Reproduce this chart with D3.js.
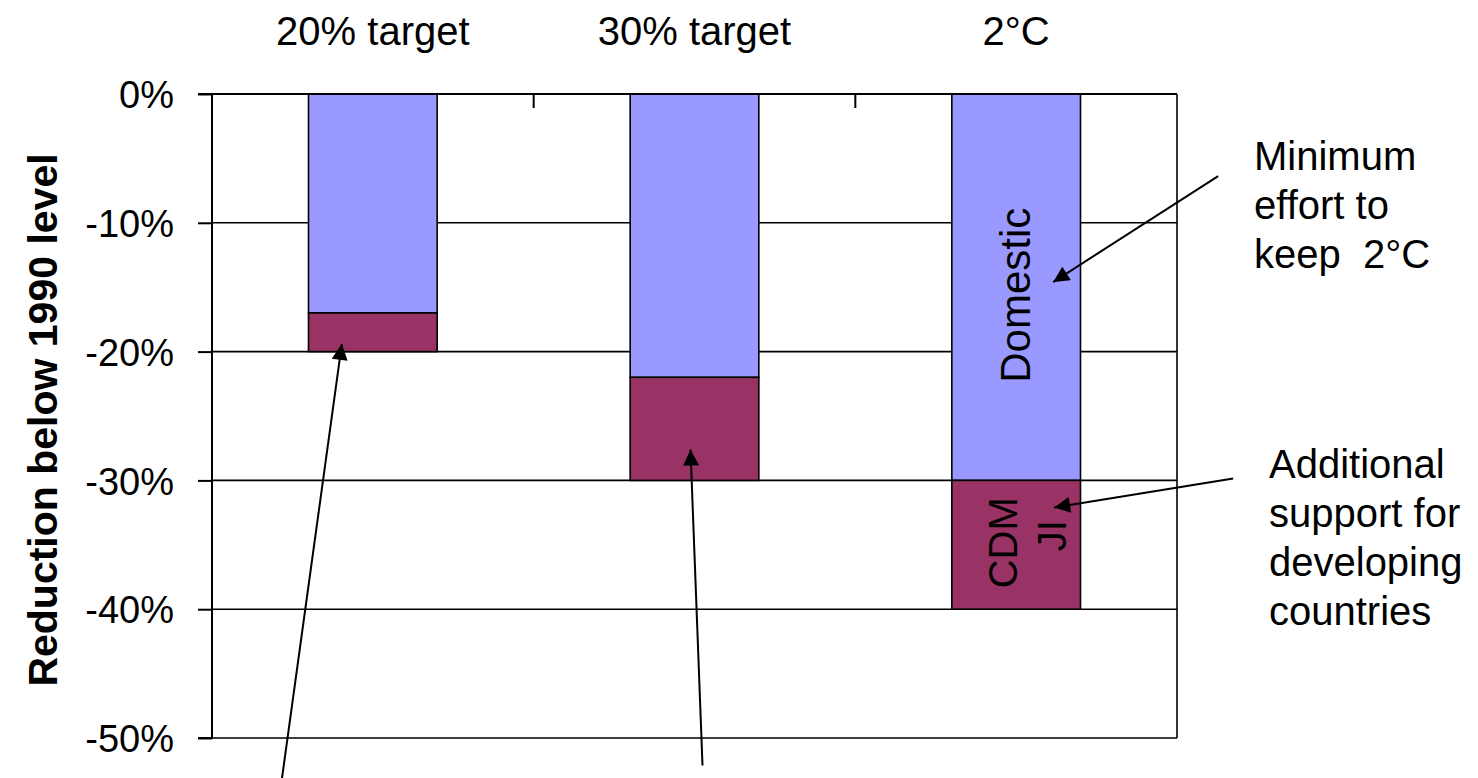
<!DOCTYPE html>
<html>
<head>
<meta charset="utf-8">
<script src="https://cdn.jsdelivr.net/npm/d3@7"></script>
<style>
  html, body { margin: 0; padding: 0; background: #fff; }
  svg { display: block; font-family: "Liberation Sans", Arial, sans-serif; }
</style>
</head>
<body>
<svg id="chart" width="1478" height="778"></svg>
<script>
// ---- data ----
const categories = ["20% target", "30% target", "2°C"];
const domestic = [-0.17, -0.22, -0.30];       // domestic reduction
const offsets = [-0.03, -0.08, -0.10];        // CDM / JI component
const yTicks = [0, -0.1, -0.2, -0.3, -0.4, -0.5];
const yTitle = "Reduction below 1990 level";

// annotation arrows: tip anchored to data (category, value), tail offset in px
const arrowCats = ["20% target", "30% target", "2°C", "2°C"];
const arrowVals = [-0.194, -0.276, -0.146, -0.321];
const noteMinimum = ["Minimum", "effort to", "keep\u00a0\u00a02°C"];
const noteAdditional = ["Additional", "support for", "developing", "countries"];

// ---- layout ----
const W = 1478, H = 778;
const plot = { left: 212, right: 1177, top: 94, bottom: 738 };
const colDomestic = "#9999FF", colOffset = "#993366";

const svg = d3.select("#chart");
svg.append("defs").append("marker")
  .attr("id", "arrow").attr("viewBox", "0 0 10 10")
  .attr("refX", 10).attr("refY", 5)
  .attr("markerWidth", 10).attr("markerHeight", 8)
  .attr("markerUnits", "strokeWidth")
  .attr("orient", "auto")
  .append("path").attr("d", "M0,0 L10,5 L0,10 z").attr("fill", "#000");

const x = d3.scaleBand().domain(categories)
  .range([plot.left, plot.right]).paddingInner(0.6).paddingOuter(0.3);
const y = d3.scaleLinear().domain([-0.5, 0]).range([plot.bottom, plot.top]);

// gridlines
svg.append("g").selectAll("line").data(yTicks).join("line")
  .attr("x1", plot.left).attr("x2", plot.right)
  .attr("y1", d => y(d)).attr("y2", d => y(d))
  .attr("stroke", "#000").attr("stroke-width", 1.6);

// right border
svg.append("line").attr("x1", plot.right).attr("x2", plot.right)
  .attr("y1", plot.top).attr("y2", plot.bottom)
  .attr("stroke", "#000").attr("stroke-width", 1.6);

// bars
const rows = categories.map((c, i) => ({ c, d: domestic[i], o: offsets[i] }));
const bars = svg.append("g");
bars.selectAll("rect.dom").data(rows).join("rect")
  .attr("x", d => x(d.c)).attr("width", x.bandwidth())
  .attr("y", y(0)).attr("height", d => y(d.d) - y(0))
  .attr("fill", colDomestic).attr("stroke", "#000").attr("stroke-width", 1.6);
bars.selectAll("rect.off").data(rows).join("rect")
  .attr("x", d => x(d.c)).attr("width", x.bandwidth())
  .attr("y", d => y(d.d)).attr("height", d => y(d.d + d.o) - y(d.d))
  .attr("fill", colOffset).attr("stroke", "#000").attr("stroke-width", 1.6);

// y axis
const yAxis = d3.axisLeft(y).tickValues(yTicks)
  .tickFormat(d3.format(".0%")).tickSize(14).tickPadding(24);
const gy = svg.append("g").attr("transform", `translate(${plot.left},0)`).call(yAxis);
gy.select(".domain").attr("stroke", "#000").attr("stroke-width", 2).attr("d", `M-14,${plot.top}H0V${plot.bottom}H-14`);
gy.selectAll(".tick line").attr("stroke", "#000").attr("stroke-width", 2);
gy.selectAll(".tick text").attr("font-size", 38).attr("fill", "#000")
  .attr("font-family", "'Liberation Sans', Arial, sans-serif").attr("dy", "0.36em");
gy.selectAll(".tick text").text(d => d === 0 ? "0%" : d3.format(".0%")(d).replace("−", "-"));

// top category axis (ticks between categories, pointing down)
const bounds = categories.slice(1).map(c => x(c) - x.step() * x.paddingInner() / 2);
svg.append("line").attr("x1", plot.left).attr("x2", plot.right)
  .attr("y1", y(0)).attr("y2", y(0)).attr("stroke", "#000").attr("stroke-width", 2);
svg.append("g").selectAll("line").data(bounds).join("line")
  .attr("x1", d => d).attr("x2", d => d)
  .attr("y1", y(0)).attr("y2", y(0) + 14)
  .attr("stroke", "#000").attr("stroke-width", 2);
svg.append("g").selectAll("text").data(categories).join("text")
  .attr("x", d => x(d) + x.bandwidth() / 2).attr("y", 45)
  .attr("text-anchor", "middle").attr("font-size", 40).attr("fill", "#000")
  .text(d => d);

// y title
svg.append("text")
  .attr("transform", `translate(57,${(plot.top + plot.bottom) / 2 + 4}) rotate(-90)`)
  .attr("text-anchor", "middle").attr("font-size", 41).attr("font-weight", "bold")
  .attr("fill", "#000").text(yTitle);

// in-bar labels (2°C bar)
const last = rows[2];
const cx = x(last.c) + x.bandwidth() / 2;
svg.append("text")
  .attr("transform", `translate(${cx + 14},${(y(0) + y(last.d)) / 2 + 8}) rotate(-90)`)
  .attr("text-anchor", "middle").attr("font-size", 42).attr("fill", "#000").text("Domestic");
const midOff = (y(last.d) + y(last.d + last.o)) / 2;
svg.append("text")
  .attr("transform", `translate(${cx + 1},${midOff - 2}) rotate(-90)`)
  .attr("text-anchor", "middle").attr("font-size", 40).attr("fill", "#000").text("CDM");
svg.append("text")
  .attr("transform", `translate(${cx + 50},${midOff - 9}) rotate(-90)`)
  .attr("text-anchor", "middle").attr("font-size", 40).attr("fill", "#000").text("JI");

// arrows
const tipDx = [-31, -4, 37, 38];
const tail = [[-62, 450], [12, 316], [165, -106], [179, -29]];
const arrows = arrowCats.map((c, i) => {
  const tx = x(c) + x.bandwidth() / 2 + tipDx[i], ty = y(arrowVals[i]);
  return { x1: tx + tail[i][0], y1: ty + tail[i][1], x2: tx, y2: ty };
});
svg.append("g").selectAll("line").data(arrows).join("line")
  .attr("x1", d => d.x1).attr("y1", d => d.y1)
  .attr("x2", d => d.x2).attr("y2", d => d.y2)
  .attr("stroke", "#000").attr("stroke-width", 2)
  .attr("marker-end", "url(#arrow)");

// notes
const n1 = svg.append("text").attr("font-size", 40).attr("fill", "#000");
n1.selectAll("tspan").data(noteMinimum).join("tspan")
  .attr("x", 1254).attr("y", (d, i) => 170 + i * 49).text(d => d);
const n2 = svg.append("text").attr("font-size", 40).attr("fill", "#000");
n2.selectAll("tspan").data(noteAdditional).join("tspan")
  .attr("x", 1269).attr("y", (d, i) => 478 + i * 49).text(d => d);
</script>
</body>
</html>
